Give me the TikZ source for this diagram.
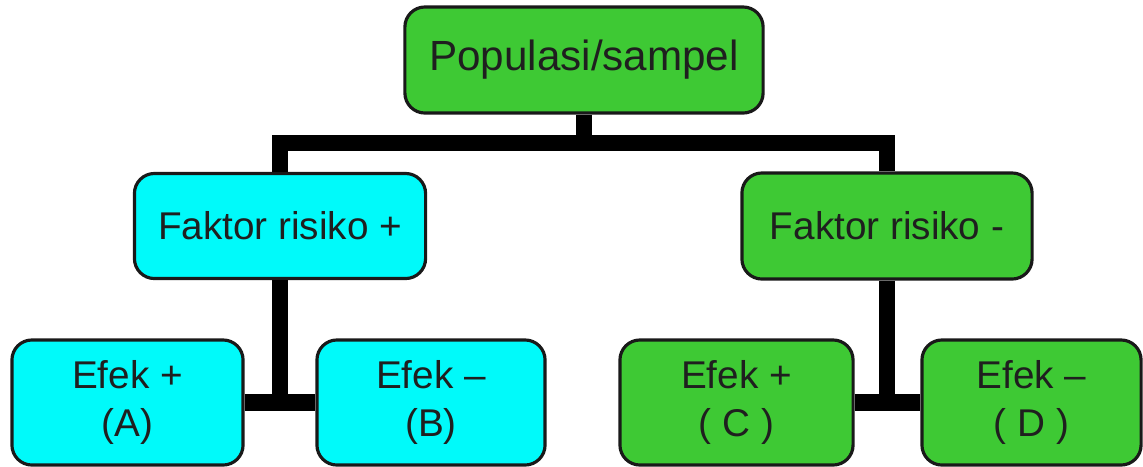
\documentclass[tikz,border=0pt]{standalone}
\usepackage{fontspec}
\setmainfont{Liberation Sans}
\usepackage{tikz}
\usetikzlibrary{calc,positioning}
\definecolor{grpgreen}{RGB}{62,201,52}
\definecolor{grpcyan}{RGB}{0,250,250}
\definecolor{boxline}{RGB}{25,25,25}

\begin{document}
\begin{tikzpicture}[x=0.01cm,y=-0.01cm,
    box/.style={draw=boxline,line width=0.9pt,rounded corners=0.2cm,
      inner sep=0pt,align=center,font=\fontsize{11}{13.7}\selectfont,text=black!88},
    link/.style={line width=4.6pt,line join=miter,line cap=butt}]
  \useasboundingbox (0,0) rectangle (1143,466);
  \node[box,fill=grpgreen,minimum width=3.58cm,minimum height=1.06cm,font=\fontsize{12}{14}\selectfont] (pop) at (584,60) {Populasi/sampel};
  \node[box,fill=grpcyan,minimum width=2.91cm,minimum height=1.05cm] (fplus) at (280,226) {Faktor risiko +};
  \node[box,fill=grpgreen,minimum width=2.90cm,minimum height=1.06cm] (fminus) at (887,226) {Faktor risiko -};
  \node[box,fill=grpcyan,minimum width=2.31cm,minimum height=1.25cm] (effA) at (127.5,402.5) {Efek +\\(A)};
  \node[box,fill=grpcyan,minimum width=2.28cm,minimum height=1.25cm] (effB) at (431,402.5) {Efek --\\(B)};
  \node[box,fill=grpgreen,minimum width=2.33cm,minimum height=1.25cm] (effC) at (736.5,402.5) {Efek +\\( C )};
  \node[box,fill=grpgreen,minimum width=2.19cm,minimum height=1.25cm] (effD) at (1031.5,402.5) {Efek --\\( D )};
  \coordinate (split) at (584,143);
  \draw[link] (pop.south) -- (split);
  \draw[link] (fplus.north) |- (split) -| (fminus.north);
  \draw[link] (effA.east) -- (effB.west);
  \draw[link] (fplus.south) -- (fplus.south |- effA.east);
  \draw[link] (effC.east) -- (effD.west);
  \draw[link] (fminus.south) -- (fminus.south |- effC.east);
\end{tikzpicture}
\end{document}
